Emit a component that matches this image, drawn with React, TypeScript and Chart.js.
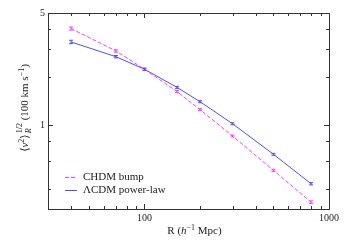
import React, { useEffect, useRef } from "react";
import { Chart, registerables } from "chart.js";

Chart.register(...registerables);

const radii = [40, 70, 100, 150, 200, 300, 500, 800];
const chdmBump = [4.0, 2.9, 2.23, 1.62, 1.25, 0.855, 0.522, 0.331];
const chdmErr = [0.09, 0.05, 0.035, 0.025, 0.018, 0.012, 0.008, 0.006];
const lcdmPower = [3.3, 2.67, 2.23, 1.72, 1.4, 1.02, 0.658, 0.431];
const lcdmErr = [0.08, 0.045, 0.035, 0.025, 0.02, 0.014, 0.009, 0.007];
const seriesLabels = ["CHDM bump", "\u039BCDM power-law"];
const xTickValues = [30, 40, 50, 60, 70, 80, 90, 100, 200, 300, 400, 500, 600, 700, 800, 900, 1000];
const xLabelValues = [100, 1000];
const yTickValues = [0.3, 0.4, 0.6, 0.8, 1, 2, 3, 4, 5];
const yLabelValues = [1, 5];

const MAGENTA = "#ff3cff";
const BLUE = "#4d4dff";
const FONT = "'Liberation Serif', 'DejaVu Serif', serif";

const framePlugin = {
  id: "framePlugin",
  afterDatasetsDraw(chart: any) {
    const { ctx, chartArea: a, scales } = chart;
    const xs = scales.x;
    const ys = scales.y;
    ctx.save();
    // error bars
    chart.data.datasets.forEach((ds: any) => {
      const errs = ds.errors as number[];
      ctx.strokeStyle = ds.borderColor;
      ctx.lineWidth = 1;
      ctx.setLineDash([]);
      ds.data.forEach((p: any, i: number) => {
        const px = xs.getPixelForValue(p.x);
        const y1 = ys.getPixelForValue(p.y - errs[i]);
        const y2 = ys.getPixelForValue(p.y + errs[i]);
        ctx.beginPath();
        ctx.moveTo(px, y1);
        ctx.lineTo(px, y2);
        ctx.moveTo(px - 2, y1);
        ctx.lineTo(px + 2, y1);
        ctx.moveTo(px - 2, y2);
        ctx.lineTo(px + 2, y2);
        ctx.stroke();
      });
    });
    // frame
    ctx.strokeStyle = "#333";
    ctx.lineWidth = 1;
    ctx.strokeRect(Math.round(a.left) + 0.5, Math.round(a.top) + 0.5, Math.round(a.right - a.left), Math.round(a.bottom - a.top));
    // ticks
    const drawX = (v: number, len: number) => {
      const px = Math.round(xs.getPixelForValue(v)) + 0.5;
      ctx.beginPath();
      ctx.moveTo(px, a.bottom);
      ctx.lineTo(px, a.bottom - len);
      ctx.moveTo(px, a.top);
      ctx.lineTo(px, a.top + len);
      ctx.stroke();
    };
    const drawY = (v: number, len: number) => {
      const py = Math.round(ys.getPixelForValue(v)) + 0.5;
      ctx.beginPath();
      ctx.moveTo(a.left, py);
      ctx.lineTo(a.left + len, py);
      ctx.moveTo(a.right, py);
      ctx.lineTo(a.right - len, py);
      ctx.stroke();
    };
    xTickValues.forEach((v) => drawX(v, xLabelValues.includes(v) ? 5 : 3));
    yTickValues.forEach((v) => drawY(v, yLabelValues.includes(v) ? 5 : 3));

    // legend
    ctx.font = `11px ${FONT}`;
    ctx.textBaseline = "middle";
    ctx.fillStyle = "#222";
    const ly = [177, 190];
    chart.data.datasets.forEach((ds: any, di: number) => {
      ctx.strokeStyle = ds.borderColor;
      ctx.setLineDash(ds.borderDash || []);
      ctx.beginPath();
      ctx.moveTo(a.left + 17, ly[di] + 0.5);
      ctx.lineTo(a.left + 29, ly[di] + 0.5);
      ctx.stroke();
      ctx.setLineDash([]);
      ctx.fillText(ds.label, a.left + 35, ly[di]);
    });

    // x title
    ctx.textBaseline = "alphabetic";
    const cx = (a.left + a.right) / 2 + 6;
    const tY = 234;
    const pieces: [string, string, number][] = [
      ["R (", `11px ${FONT}`, 0],
      ["h", `italic 11px ${FONT}`, 0],
      ["\u22121", `8px ${FONT}`, -4],
      [" Mpc)", `11px ${FONT}`, 0],
    ];
    let total = 0;
    pieces.forEach(([t, f]) => {
      ctx.font = f;
      total += ctx.measureText(t).width;
    });
    let x = cx - total / 2;
    pieces.forEach(([t, f, dy]) => {
      ctx.font = f;
      ctx.fillText(t, x, tY + dy);
      x += ctx.measureText(t).width;
    });

    // y title (rotated)
    ctx.translate(28, 108);
    ctx.rotate(-Math.PI / 2);
    const yp: [string, string, number][] = [
      ["\u27E8", `11px ${FONT}`, 0],
      ["v", `italic 11px ${FONT}`, 0],
      ["2", `8px ${FONT}`, -4],
      ["\u27E9", `11px ${FONT}`, 0],
    ];
    const rest: [string, string, number][] = [
      [" (100 km s", `11px ${FONT}`, 0],
      ["\u22121", `8px ${FONT}`, -4],
      [")", `11px ${FONT}`, 0],
    ];
    let w = 0;
    [...yp, ...rest].forEach(([t, f]) => {
      ctx.font = f;
      w += ctx.measureText(t).width;
    });
    ctx.font = `8px ${FONT}`;
    const stackW = ctx.measureText("1/2").width + 1;
    w += stackW;
    let xx = -w / 2;
    yp.forEach(([t, f, dy]) => {
      ctx.font = f;
      ctx.fillText(t, xx, dy);
      xx += ctx.measureText(t).width;
    });
    ctx.font = `8px ${FONT}`;
    ctx.fillText("1/2", xx + 1, -6);
    ctx.font = `italic 8px ${FONT}`;
    ctx.fillText("R", xx + 1, 3);
    xx += stackW;
    rest.forEach(([t, f, dy]) => {
      ctx.font = f;
      ctx.fillText(t, xx, dy);
      xx += ctx.measureText(t).width;
    });
    ctx.restore();
  },
};

export default function App() {
  const ref = useRef<HTMLCanvasElement | null>(null);
  useEffect(() => {
    document.body.style.margin = "0";
    const canvas = ref.current;
    if (!canvas) return;
    const chart = new Chart(canvas, {
      type: "line",
      data: {
        datasets: [
          {
            label: seriesLabels[0],
            data: radii.map((r, i) => ({ x: r, y: chdmBump[i] })),
            errors: chdmErr,
            borderColor: MAGENTA,
            borderWidth: 1,
            borderDash: [4, 2],
            pointRadius: 0,
            tension: 0,
          } as any,
          {
            label: seriesLabels[1],
            data: radii.map((r, i) => ({ x: r, y: lcdmPower[i] })),
            errors: lcdmErr,
            borderColor: BLUE,
            borderWidth: 1,
            pointRadius: 0,
            tension: 0,
          } as any,
        ],
      },
      options: {
        responsive: false,
        animation: false,
        layout: { padding: { left: 0, top: 13, right: 19, bottom: 0 } },
        plugins: { legend: { display: false }, tooltip: { enabled: false } },
        scales: {
          x: {
            type: "logarithmic",
            min: 30,
            max: 1000,
            afterBuildTicks: (s: any) => {
              s.ticks = xTickValues.map((v) => ({ value: v }));
            },
            afterFit: (s: any) => {
              s.height = 32;
            },
            grid: { display: false, drawTicks: false, tickLength: 0 },
            border: { display: false },
            ticks: {
              autoSkip: false,
              maxRotation: 0,
              padding: 3,
              color: "#222",
              font: { family: FONT, size: 10 },
              callback: (v: any) => (xLabelValues.includes(Number(v)) ? String(v) : ""),
            },
          },
          y: {
            type: "logarithmic",
            min: 0.3,
            max: 5,
            afterBuildTicks: (s: any) => {
              s.ticks = yTickValues.map((v) => ({ value: v }));
            },
            afterFit: (s: any) => {
              s.width = 48;
            },
            grid: { display: false, drawTicks: false, tickLength: 0 },
            border: { display: false },
            ticks: {
              autoSkip: false,
              padding: 3,
              color: "#222",
              font: { family: FONT, size: 10 },
              callback: (v: any) => (yLabelValues.includes(Number(v)) ? String(v) : ""),
            },
          },
        },
      } as any,
      plugins: [framePlugin],
    });
    return () => chart.destroy();
  }, []);
  return <canvas ref={ref} width={348} height={241} style={{ display: "block" }} />;
}
